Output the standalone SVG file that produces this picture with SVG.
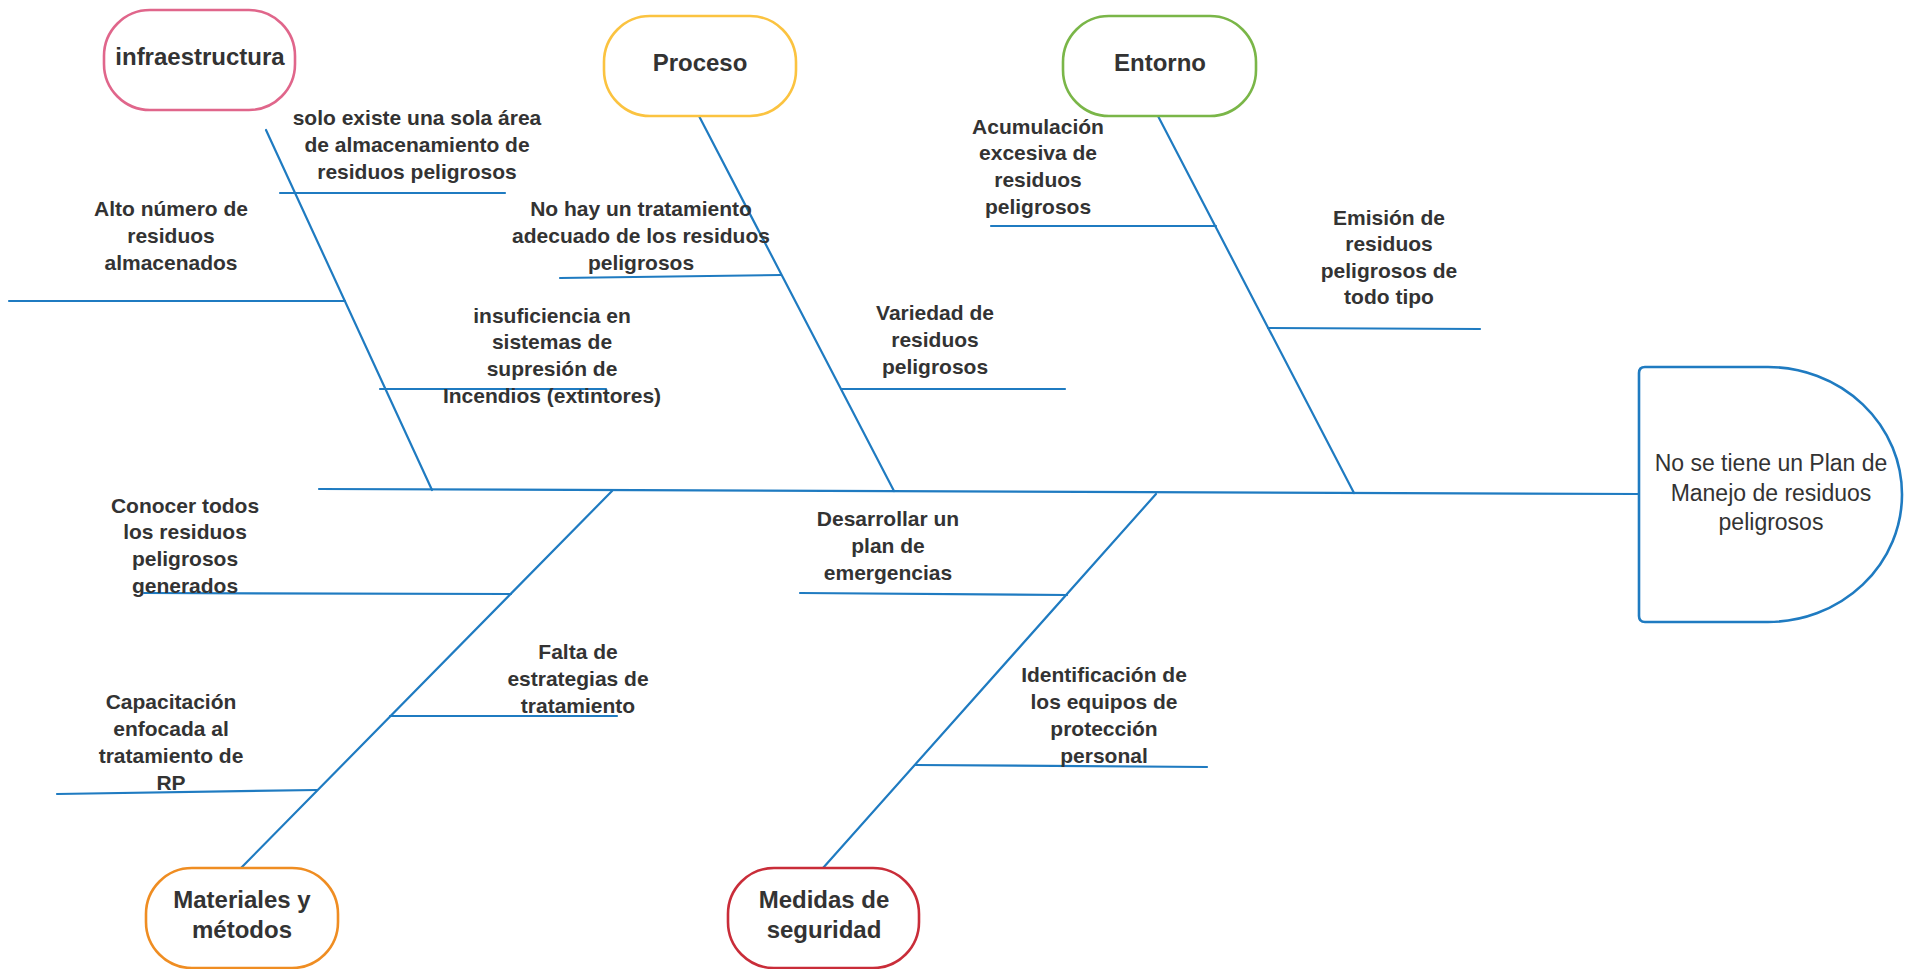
<svg xmlns="http://www.w3.org/2000/svg" width="1912" height="969" viewBox="0 0 1912 969">
<style>
.bg{fill:#ffffff}
.ln{stroke:#1f7bc1;stroke-width:2.2;fill:none;stroke-linecap:round}
.box{fill:#ffffff;stroke-width:2.6}
.nt{font-family:"Liberation Sans",Arial,sans-serif;font-weight:bold;font-size:24px;fill:#333333;text-anchor:middle}
.st{font-family:"Liberation Sans",Arial,sans-serif;font-weight:bold;font-size:21px;fill:#333333;text-anchor:middle}
.ht{font-family:"Liberation Sans",Arial,sans-serif;font-size:23px;fill:#333333;text-anchor:middle}
</style>
<rect class="bg" x="0" y="0" width="1912" height="969"/>
<g id="connectors">
<line class="ln" x1="319" y1="489" x2="1639" y2="494"/>
<line class="ln" x1="266" y1="130" x2="432" y2="490"/>
<line class="ln" x1="699" y1="116" x2="894" y2="491"/>
<line class="ln" x1="1158" y1="116" x2="1354" y2="493"/>
<line class="ln" x1="612" y1="491" x2="241" y2="868"/>
<line class="ln" x1="1156" y1="494" x2="823" y2="868"/>
<line class="ln" x1="280" y1="193" x2="505" y2="193"/>
<line class="ln" x1="9" y1="301" x2="345" y2="301"/>
<line class="ln" x1="380" y1="389" x2="606" y2="389"/>
<line class="ln" x1="560" y1="278" x2="781" y2="275"/>
<line class="ln" x1="841" y1="389" x2="1065" y2="389"/>
<line class="ln" x1="991" y1="226" x2="1216" y2="226"/>
<line class="ln" x1="1268" y1="328" x2="1480" y2="329"/>
<line class="ln" x1="144" y1="593" x2="511" y2="594"/>
<line class="ln" x1="390" y1="716" x2="617" y2="716"/>
<line class="ln" x1="57" y1="794" x2="317" y2="790"/>
<line class="ln" x1="800" y1="593" x2="1067" y2="595"/>
<line class="ln" x1="915" y1="765" x2="1207" y2="767"/>
</g>
<g id="infraestructura">
<rect class="box" x="104" y="10" width="191" height="100" rx="46" ry="46" stroke="#e0668b"/>
<text class="nt" x="200" y="65">infraestructura</text>
</g>
<g id="proceso">
<rect class="box" x="604" y="16" width="192" height="100" rx="46" ry="46" stroke="#fbc340"/>
<text class="nt" x="700" y="71">Proceso</text>
</g>
<g id="entorno">
<rect class="box" x="1063" y="16" width="193" height="100" rx="46" ry="46" stroke="#7ab648"/>
<text class="nt" x="1160" y="71">Entorno</text>
</g>
<g id="materiales">
<rect class="box" x="146" y="868" width="192" height="100" rx="46" ry="46" stroke="#ef8d22"/>
<text class="nt" x="242" y="908">Materiales y<tspan x="242" dy="30">métodos</tspan></text>
</g>
<g id="medidas">
<rect class="box" x="728" y="868" width="191" height="100" rx="46" ry="46" stroke="#c92d39"/>
<text class="nt" x="824" y="908">Medidas de<tspan x="824" dy="30">seguridad</tspan></text>
</g>
<g id="head">
<path class="box" stroke="#1f7bc1" d="M1645,367 L1768,367 A134,127.5 0 0 1 1768,622 L1645,622 Q1639,622 1639,616 L1639,373 Q1639,367 1645,367 Z"/>
<text class="ht" x="1771" y="471">No se tiene un Plan de<tspan x="1771" dy="29.5">Manejo de residuos</tspan><tspan x="1771" dy="29.5">peligrosos</tspan></text>
</g>
<g id="labels">
<text class="st" x="417" y="124.5">solo existe una sola área<tspan x="417" dy="27">de almacenamiento de</tspan><tspan x="417" dy="27">residuos peligrosos</tspan></text>
<text class="st" x="171" y="215.5">Alto número de<tspan x="171" dy="27">residuos</tspan><tspan x="171" dy="27">almacenados</tspan></text>
<text class="st" x="552" y="322.5">insuficiencia en<tspan x="552" dy="26.7">sistemas de</tspan><tspan x="552" dy="26.7">supresión de</tspan><tspan x="552" dy="26.7">Incendios (extintores)</tspan></text>
<text class="st" x="641" y="215.5">No hay un tratamiento<tspan x="641" dy="27">adecuado de los residuos</tspan><tspan x="641" dy="27">peligrosos</tspan></text>
<text class="st" x="935" y="319.5">Variedad de<tspan x="935" dy="27">residuos</tspan><tspan x="935" dy="27">peligrosos</tspan></text>
<text class="st" x="1038" y="133.5">Acumulación<tspan x="1038" dy="26.7">excesiva de</tspan><tspan x="1038" dy="26.7">residuos</tspan><tspan x="1038" dy="26.7">peligrosos</tspan></text>
<text class="st" x="1389" y="224.5">Emisión de<tspan x="1389" dy="26.5">residuos</tspan><tspan x="1389" dy="26.5">peligrosos de</tspan><tspan x="1389" dy="26.5">todo tipo</tspan></text>
<text class="st" x="185" y="512.5">Conocer todos<tspan x="185" dy="26.7">los residuos</tspan><tspan x="185" dy="26.7">peligrosos</tspan><tspan x="185" dy="26.7">generados</tspan></text>
<text class="st" x="578" y="658.5">Falta de<tspan x="578" dy="27">estrategias de</tspan><tspan x="578" dy="27">tratamiento</tspan></text>
<text class="st" x="171" y="708.5">Capacitación<tspan x="171" dy="27">enfocada al</tspan><tspan x="171" dy="27">tratamiento de</tspan><tspan x="171" dy="27">RP</tspan></text>
<text class="st" x="888" y="525.5">Desarrollar un<tspan x="888" dy="27">plan de</tspan><tspan x="888" dy="27">emergencias</tspan></text>
<text class="st" x="1104" y="681.5">Identificación de<tspan x="1104" dy="27">los equipos de</tspan><tspan x="1104" dy="27">protección</tspan><tspan x="1104" dy="27">personal</tspan></text>
</g>
</svg>
